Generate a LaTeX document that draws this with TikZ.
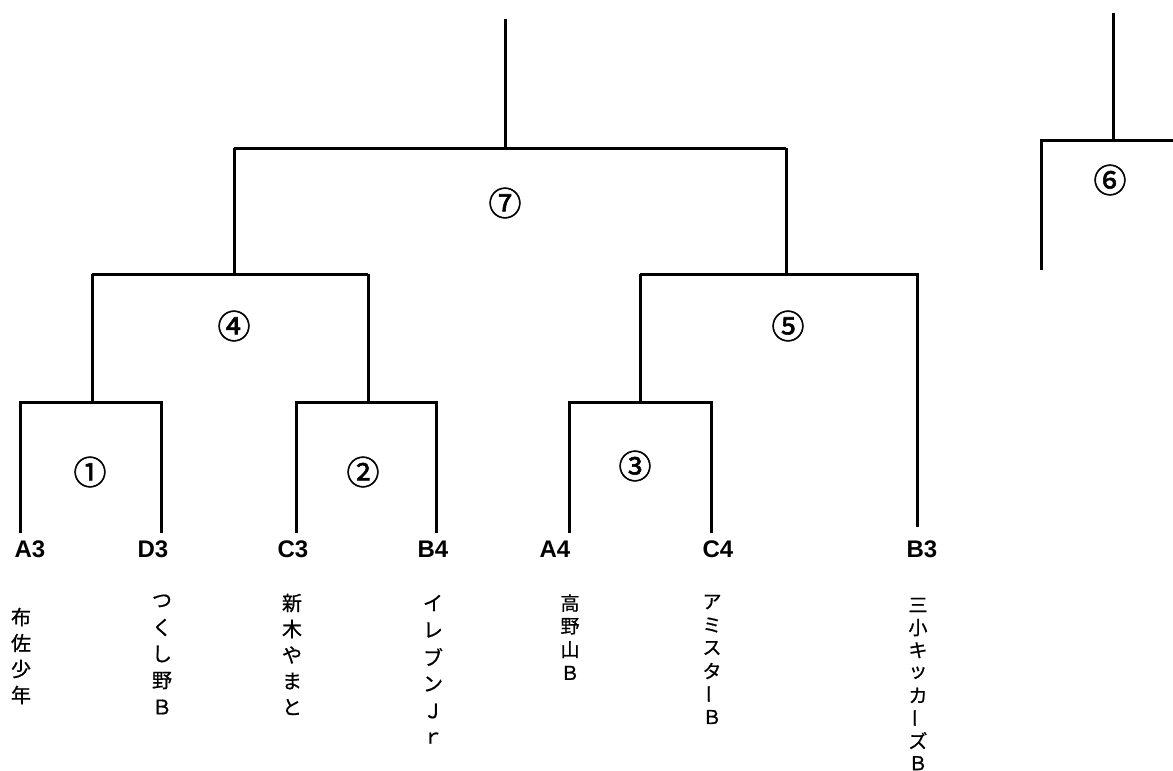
\documentclass[tikz,border=0pt]{standalone}
\usepackage{fontspec}
\usepackage{graphicx}
\setmainfont{Liberation Sans}
\newfontfamily\cjk[FakeBold=0.8]{Noto Sans CJK JP}
\newfontfamily\cjkfb[FakeBold=1.6]{Noto Sans CJK JP}
\newcommand\vbarmark{\rotatebox[origin=c]{90}{ー}}
\newcommand\vname[6]{% name, x, y0, dy, size, list
  \foreach \c [count=\i] in {#6}
    \node[jch, font=\cjk\fontsize{#5}{#5}\selectfont] (#1-\i) at (#2, {#3+(\i-1)*#4}) {\c};}
\begin{document}
\begin{tikzpicture}[x=1pt, y=-1pt,
  line/.style={line width=3pt, line join=miter},
  code/.style={font=\bfseries\fontsize{24}{24}\selectfont, inner sep=0pt},
  jch/.style={inner sep=0pt},
  rnd/.style={font=\cjkfb\fontsize{33}{33}\selectfont, inner sep=0pt}]
\useasboundingbox (0,0) rectangle (1173,771);
% team codes
\node[code] (A3) at (30,549) {A3};
\node[code] (D3) at (153,549) {D3};
\node[code] (C3) at (293,549) {C3};
\node[code] (B4) at (433,549) {B4};
\node[code] (A4) at (555,549) {A4};
\node[code] (C4) at (718,549) {C4};
\node[code] (B3) at (922,549) {B3};
% bracket coordinates
\coordinate (l1) at (20,533);  \coordinate (l2) at (161,533);
\coordinate (l3) at (296,533); \coordinate (l4) at (436,533);
\coordinate (l5) at (569,533); \coordinate (l6) at (711,533);
\coordinate (l7) at (917,527);
\coordinate (m1) at (92,402);  \coordinate (m2) at (368,402);
\coordinate (m3) at (640,402);
\coordinate (m4) at (234,274); \coordinate (m5) at (786,274);
\coordinate (m7) at (505,148); \coordinate (top7) at (505,19);
\coordinate (m6l) at (1041,270); \coordinate (m6) at (1113,140);
\coordinate (m6r) at (1175,140); \coordinate (top6) at (1113,13);
% match 1
\draw[line] (l1) |- (m1) -| (l2);
\draw[line] (m1) -- (92,274);
% match 2
\draw[line] (l3) |- (m2) -| (l4);
\draw[line] (m2) -- (368,274);
% match 3
\draw[line] (l5) |- (m3) -| (l6);
\draw[line] (m3) -- (640,274);
% match 4
\draw[line] (92,274) -- (368,274);
\draw[line] (m4) -- (234,148);
% match 5
\draw[line] (640,274) -- (m5) -| (l7);
\draw[line] (m5) -- (786,148);
% match 7
\draw[line] (234,148) -- (786,148);
\draw[line] (m7) -- (top7);
% match 6
\draw[line] (m6l) |- (m6r);
\draw[line] (m6) -- (top6);
% round labels
\node[rnd] (r1) at (90,472) {①};
\node[rnd] (r2) at (363,472) {②};
\node[rnd] (r3) at (635,466) {③};
\node[rnd] (r4) at (234,326) {④};
\node[rnd] (r5) at (788,326) {⑤};
\node[rnd] (r6) at (1110,180) {⑥};
\node[rnd] (r7) at (505,203) {⑦};
% team names (vertical)
\vname{n1}{21}{617}{26}{20}{布,佐,少,年}
\vname{n2}{162}{601}{26.5}{20}{つ,く,し,野,Ｂ}
\vname{n3}{292}{603}{26}{20}{新,木,や,ま,と}
\vname{n4}{433}{603}{27}{20}{イ,レ,ブ,ン,Ｊ,ｒ}
\vname{n5}{570}{603}{23.3}{19}{高,野,山,Ｂ}
\vname{n6}{712}{602}{23}{19}{ア,ミ,ス,タ,\vbarmark,Ｂ}
\vname{n7}{918}{605}{22.6}{19}{三,小,キ,ッ,カ,\vbarmark,ズ,Ｂ}
\end{tikzpicture}
\end{document}
